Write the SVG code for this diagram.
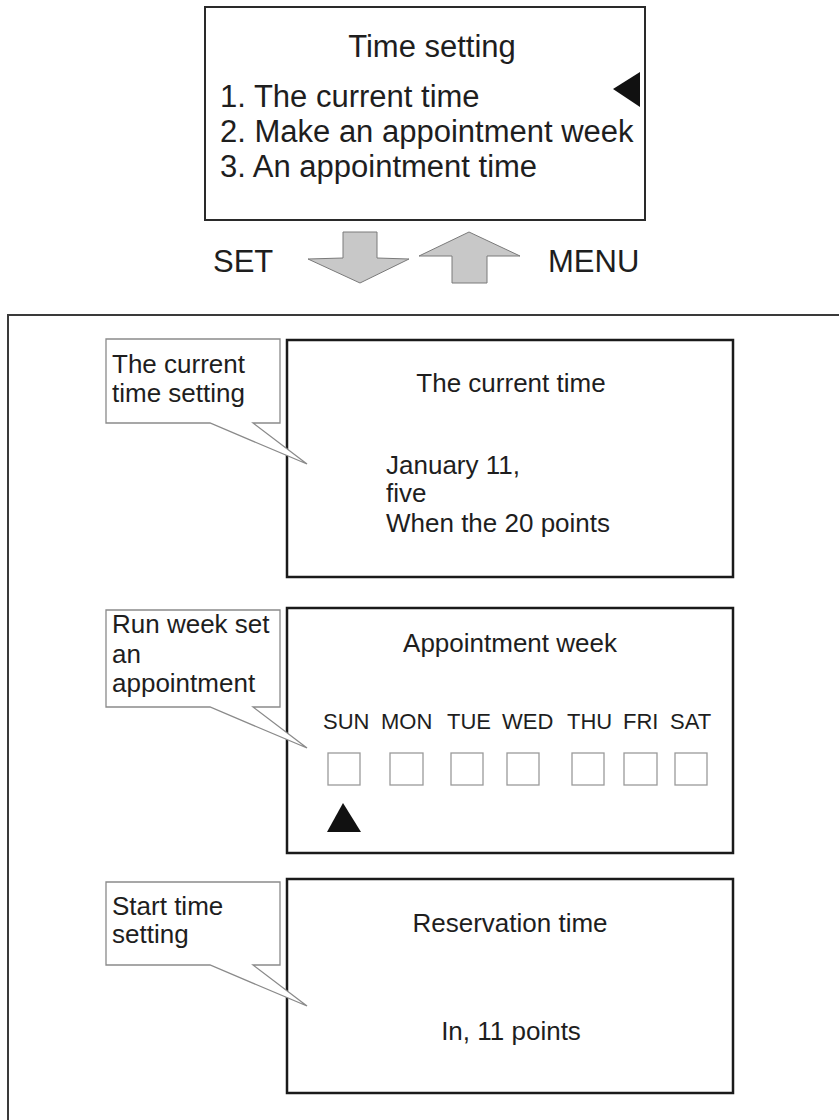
<svg xmlns="http://www.w3.org/2000/svg" width="839" height="1120" viewBox="0 0 839 1120">
<style>
.t{font-family:"Liberation Sans",Arial,sans-serif;fill:#1e1e1e}
.big{font-size:31px}
.mid{font-size:26px}
.day{font-size:22px}
.scr{fill:#fff;stroke:#1a1a1a;stroke-width:2.5}
.callout{fill:#fff;stroke:#8a8a8a;stroke-width:1.3;stroke-linejoin:miter}
.chk{fill:#fff;stroke:#9a9a9a;stroke-width:1.3}
.arr{fill:#c8c8c8;stroke:#7a7a7a;stroke-width:1}
</style>
<rect width="839" height="1120" fill="#fff"/>
<g id="frame"><rect x="8" y="315" width="900" height="900" fill="none" stroke="#3a3a3a" stroke-width="2"/></g>
<g id="menu">
<rect x="205" y="7" width="440" height="213" fill="#fff" stroke="#2a2a2a" stroke-width="2"/>
<text class="t big" x="432" y="57" text-anchor="middle">Time setting</text>
<text class="t big" x="220" y="107">1. The current time</text>
<text class="t big" x="220" y="142">2. Make an appointment week</text>
<text class="t big" x="220" y="177">3. An appointment time</text>
<polygon points="613,89 640,72 640,107" fill="#111"/>
</g>
<g id="connectors">
<polygon class="arr" points="343,232 377,232 377,258 409,259 360,283 308,259 343,258"/>
<polygon class="arr" points="469,232 520,256 487,256 487,283 452,283 452,256 419,256"/>
<text class="t big" x="213" y="272">SET</text>
<text class="t big" x="548" y="272">MENU</text>
</g>
<g id="screen1">
<rect class="scr" x="287" y="340" width="446" height="237"/>
<text class="t mid" x="511" y="392" text-anchor="middle">The current time</text>
<text class="t mid" x="386" y="474">January 11,</text>
<text class="t mid" x="386" y="502">five</text>
<text class="t mid" x="386" y="532">When the 20 points</text>
</g>
<g id="callout1">
<path class="callout" d="M106,339 H280 V423 H253 L307,464 L210,423 H106 Z"/>
<text class="t mid" x="112" y="373">The current</text>
<text class="t mid" x="112" y="402">time setting</text>
</g>
<g id="screen2">
<rect class="scr" x="287" y="608" width="446" height="245"/>
<text class="t mid" x="510" y="652" text-anchor="middle">Appointment week</text>
<text class="t day" x="323" y="729">SUN</text>
<text class="t day" x="381" y="729">MON</text>
<text class="t day" x="447" y="729">TUE</text>
<text class="t day" x="502" y="729">WED</text>
<text class="t day" x="567" y="729">THU</text>
<text class="t day" x="623" y="729">FRI</text>
<text class="t day" x="670" y="729">SAT</text>
<rect class="chk" x="328" y="753" width="32" height="32"/>
<rect class="chk" x="390" y="753" width="33" height="32"/>
<rect class="chk" x="451" y="753" width="32" height="32"/>
<rect class="chk" x="507" y="753" width="32" height="32"/>
<rect class="chk" x="572" y="753" width="32" height="32"/>
<rect class="chk" x="624" y="753" width="33" height="32"/>
<rect class="chk" x="675" y="753" width="32" height="32"/>
<polygon points="343,803 361,832 327,832" fill="#111"/>
</g>
<g id="callout2">
<path class="callout" d="M106,610 H280 V707 H253 L307,748 L210,707 H106 Z"/>
<text class="t mid" x="112" y="633">Run week set</text>
<text class="t mid" x="112" y="663">an</text>
<text class="t mid" x="112" y="692">appointment</text>
</g>
<g id="screen3">
<rect class="scr" x="287" y="879" width="446" height="214"/>
<text class="t mid" x="510" y="932" text-anchor="middle">Reservation time</text>
<text class="t mid" x="511" y="1040" text-anchor="middle">In, 11 points</text>
</g>
<g id="callout3">
<path class="callout" d="M106,882 H280 V965 H253 L307,1006 L210,965 H106 Z"/>
<text class="t mid" x="112" y="915">Start time</text>
<text class="t mid" x="112" y="943">setting</text>
</g>
</svg>
